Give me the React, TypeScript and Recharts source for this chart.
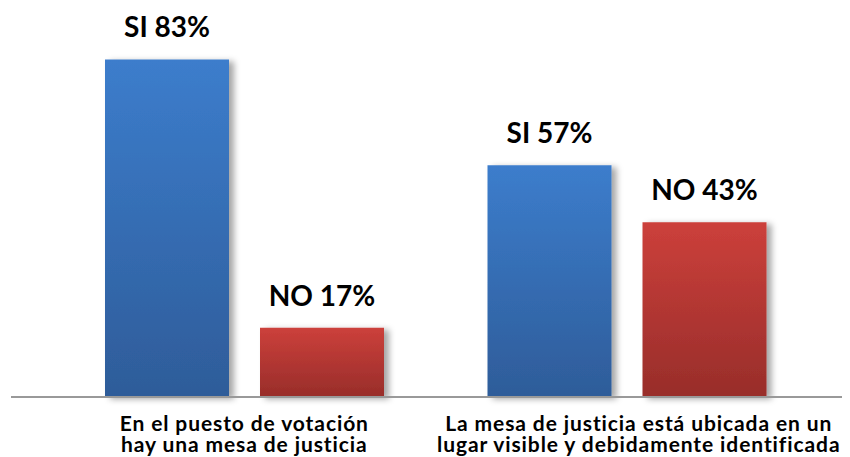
import { BarChart, Bar, XAxis, YAxis, LabelList, Rectangle } from 'recharts'

const categorias = [
  ['En el puesto de votación', 'hay una mesa de justicia'],
  ['La mesa de justicia está ubicada en un', 'lugar visible y debidamente identificada'],
]
const si = [83, 57]
const no = [17, 43]

const data = categorias.map((c, i) => ({ name: c.join(' '), si: si[i], no: no[i] }))

const FONT = 'Lato, "Open Sans", sans-serif'

// dos lineas por categoria, como en el original
const CategoryTick = (props: any) => {
  const { x, y, payload, index } = props
  const lines = categorias[index] ?? [payload.value]
  const dx = index === 1 ? 12 : 0
  return (
    <g transform={`translate(${x + dx},${y})`}>
      {lines.map((l: string, i: number) => (
        <text
          key={i}
          x={0}
          y={26 + i * 21}
          textAnchor="middle"
          fontFamily={FONT}
          fontWeight={700}
          fontSize={21}
          letterSpacing={0.9}
          fill="#000"
        >
          {l}
        </text>
      ))}
    </g>
  )
}

const makeLabel = (prefix: string) => (props: any) => {
  const { x, y, width, value } = props
  return (
    <text
      x={x + width / 2}
      y={y - 22}
      textAnchor="middle"
      fontFamily={FONT}
      fontWeight={700}
      fontSize={28}
      fill="#000"
    >
      {`${prefix} ${value}%`}
    </text>
  )
}

const ShadowBar = (props: any) => <Rectangle {...props} filter="url(#barShadow)" />

export default function App() {
  return (
    <BarChart
      width={842}
      height={449}
      data={data}
      margin={{ top: 23, right: 0, bottom: 0, left: 3 }}
      barSize={124}
      barGap={31}
    >
      <defs>
        <linearGradient id="gradSi" x1="0" y1="0" x2="0" y2="1">
          <stop offset="0%" stopColor="#3c7dcc" />
          <stop offset="100%" stopColor="#2e5c99" />
        </linearGradient>
        <linearGradient id="gradNo" x1="0" y1="0" x2="0" y2="1">
          <stop offset="0%" stopColor="#cc403b" />
          <stop offset="100%" stopColor="#982d2a" />
        </linearGradient>
        <filter id="barShadow" x="-10%" y="-10%" width="130%" height="130%">
          <feDropShadow dx={5} dy={2} stdDeviation={3} floodColor="#000" floodOpacity={0.35} />
        </filter>
      </defs>
      <XAxis
        dataKey="name"
        height={60}
        padding={{ left: 42, right: 32 }}
        axisLine={{ stroke: '#999', strokeWidth: 2 }}
        tickLine={false}
        interval={0}
        tick={<CategoryTick />}
      />
      <YAxis hide domain={[0, 90]} />
      <Bar dataKey="si" fill="url(#gradSi)" isAnimationActive={false} shape={ShadowBar}>
        <LabelList dataKey="si" content={makeLabel('SI')} />
      </Bar>
      <Bar dataKey="no" fill="url(#gradNo)" isAnimationActive={false} shape={ShadowBar}>
        <LabelList dataKey="no" content={makeLabel('NO')} />
      </Bar>
    </BarChart>
  )
}
